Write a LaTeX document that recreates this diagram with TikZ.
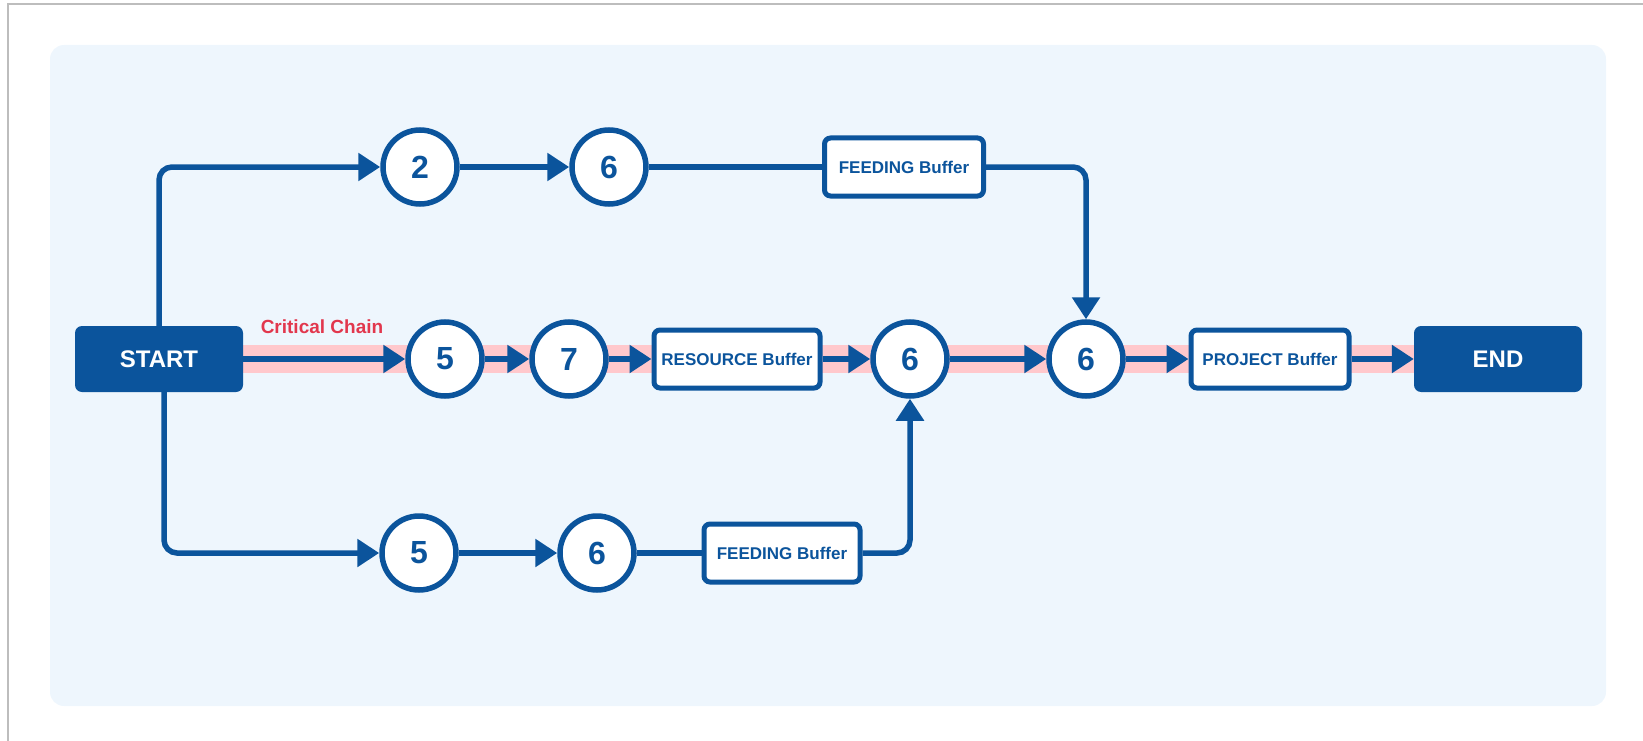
\documentclass[tikz,border=0pt]{standalone}
\usepackage{fontspec}
\setmainfont{Liberation Sans}
\usetikzlibrary{arrows.meta}
\definecolor{navy}{HTML}{0B549C}
\definecolor{panel}{HTML}{EEF6FD}
\definecolor{chainpink}{HTML}{FFC8CC}
\definecolor{chainred}{HTML}{E2374D}
\definecolor{framegray}{HTML}{BDBDBD}
\pgfdeclarelayer{background}
\pgfsetlayers{background,main}

\begin{document}
\begin{tikzpicture}[x=1pt,y=-1pt,
  terminal/.style={fill=navy, rounded corners=7pt, minimum width=168pt,
    minimum height=66pt, text=white, font=\fontsize{24}{28}\selectfont\bfseries},
  task/.style={circle, draw=navy, line width=5.5pt, fill=white, minimum size=74pt,
    inner sep=0pt, text=navy, font=\fontsize{32}{36}\selectfont\bfseries},
  buffer/.style={draw=navy, line width=5pt, fill=white, rounded corners=6pt,
    minimum height=58pt, inner xsep=4pt, text=navy,
    font=\fontsize{17}{20}\selectfont\bfseries},
  flow/.style={draw=navy, line width=5.5pt, -{Triangle[length=22pt,width=27pt]}},
  link/.style={draw=navy, line width=5.5pt},
  elbow/.style={rounded corners=13pt},
]
\useasboundingbox (0,0) rectangle (1643,741);

% page frame (left and top edge)
\draw[framegray, line width=1.5pt] (8,741) -- (8,4) -- (1643,4);

% critical chain row
\node[terminal] (start) at (159,359) {START};
\node[task] (c5) at (445,359) {5};
\node[task] (c7) at (569,359) {7};
\node[buffer, minimum width=166pt] (res) at (737,359) {RESOURCE Buffer};
\node[task] (c6a) at (910,359) {6};
\node[task] (c6b) at (1086,359) {6};
\node[buffer, minimum width=158pt] (proj) at (1270,359) {PROJECT Buffer};
\node[terminal] (finish) at (1498,359) {END};
\node[text=chainred, font=\fontsize{19}{22}\selectfont\bfseries] (cclabel) at (322,327) {Critical Chain};

% upper feeding chain
\node[task] (t2) at (420,167) {2};
\node[task] (t6) at (609,167) {6};
\node[buffer, minimum width=159pt] (fb1) at (904,167) {FEEDING Buffer};

% lower feeding chain
\node[task] (b5) at (419,553) {5};
\node[task] (b6) at (597,553) {6};
\node[buffer, minimum width=156pt] (fb2) at (782,553) {FEEDING Buffer};

\begin{pgfonlayer}{background}
  \fill[panel, rounded corners=14pt] (50,45) rectangle (1606,706);
  \fill[chainpink] ([yshift=14pt]start.east) rectangle ([yshift=-14pt]finish.west);
\end{pgfonlayer}

% critical chain connectors
\draw[flow] (start) -- (c5);
\draw[flow] (c5) -- (c7);
\draw[flow] (c7) -- (res);
\draw[flow] (res) -- (c6a);
\draw[flow] (c6a) -- (c6b);
\draw[flow] (c6b) -- (proj);
\draw[flow] (proj) -- (finish);

% upper branch
\draw[flow, elbow] (start.north) |- (t2);
\draw[flow] (t2) -- (t6);
\draw[link] (t6) -- (fb1);
\draw[flow, elbow] (fb1.east) -| (c6b);

% lower branch
\draw[flow, elbow] ([xshift=5pt]start.south) |- (b5);
\draw[flow] (b5) -- (b6);
\draw[link] (b6) -- (fb2);
\draw[flow, elbow] (fb2.east) -| (c6a);
\end{tikzpicture}
\end{document}
